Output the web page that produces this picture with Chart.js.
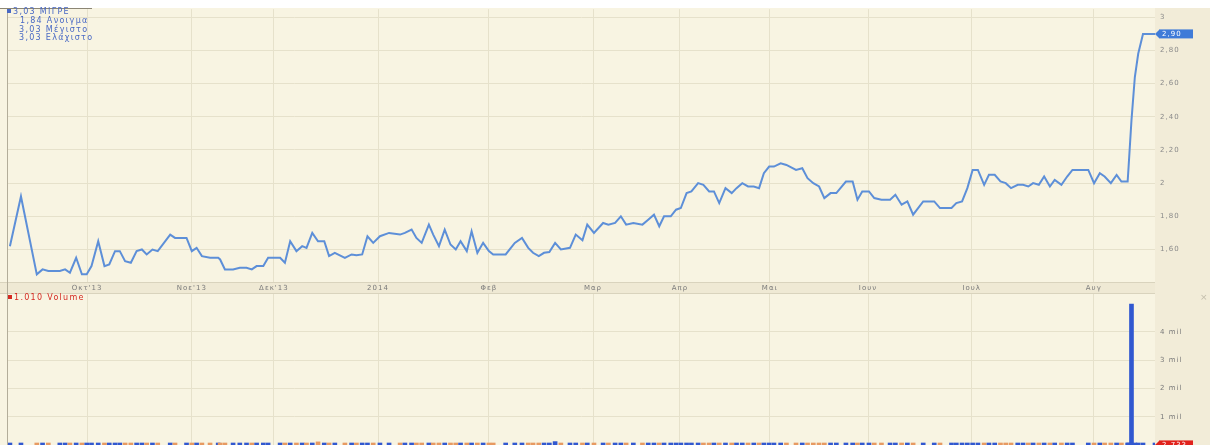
<!DOCTYPE html>
<html>
<head>
<meta charset="utf-8">
<script src="https://cdn.jsdelivr.net/npm/chart.js@4.4.1/dist/chart.umd.min.js"></script>
<style>
  html, body { margin: 0; padding: 0; background: #fff; width: 1210px; height: 445px; overflow: hidden; }
  #panel { position: absolute; left: 0; top: 8px; width: 1155px; height: 437px; background: #f8f4e2; }
  #axisBg { position: absolute; left: 1155px; top: 8px; width: 55px; height: 437px; background: #f2ecd8; }
  #leftLine { position: absolute; left: 7px; top: 8px; width: 1px; height: 437px; background: #b3ad9a; }
  #tabLine { position: absolute; left: 0; top: 8px; width: 92px; height: 1px; background: #8c8674; }
  canvas { position: absolute; left: 0; }
  #priceChart { top: 0; }
  #volChart { top: 294px; }
  .legend { position: absolute; font-family: "DejaVu Sans", sans-serif; font-size: 8px; line-height: 8.8px; letter-spacing: 1.3px; white-space: nowrap; }
  .sq { display: inline-block; width: 4px; height: 4px; margin-right: 2px; vertical-align: 1px; }
  #priceLegend { left: 7px; top: 8px; color: #4868c4; }
  #volLegend { left: 8px; top: 294px; color: #d42a22; }
  #closeX { position: absolute; left: 1200px; top: 292px; font-family: "DejaVu Sans", sans-serif; font-size: 9px; color: #c2bcaa; }
</style>
</head>
<body>
<div id="panel"></div>
<div id="axisBg"></div>
<canvas id="priceChart" width="1210" height="294"></canvas>
<canvas id="volChart" width="1210" height="151"></canvas>
<div id="leftLine"></div>
<div id="tabLine"></div>
<div id="priceLegend" class="legend">
  <div><span class="sq" style="background:#4868c4"></span>3,03 ΜΙΓΡΕ</div>
  <div style="padding-left:13px">1,84 Ανοιγμα</div>
  <div style="padding-left:12px">3,03 Μέγιστο</div>
  <div style="padding-left:12px">3,03 Ελάχιστο</div>
</div>
<div id="volLegend" class="legend"><span class="sq" style="background:#d42a22"></span>1.010 Volume</div>
<div id="closeX">×</div>
<script>
// trading day index (from 19 Sep 2013) of each vertex of the price line
const days = [
  0.4, 2.7, 6.0, 7.2, 8.4, 10.8, 11.9, 12.9, 14.2, 15.4,
  16.4, 17.4, 18.8, 20.1, 21.1, 22.3, 23.3, 24.4, 25.6, 26.8,
  27.9, 28.9, 30.1, 31.2, 33.8, 34.8, 37.2, 38.3, 39.3, 40.4,
  42.1, 43.8, 44.2, 45.2, 46.9, 48.3, 49.7, 50.8, 51.8, 53.2,
  54.2, 56.7, 57.7, 58.8, 60.1, 61.3, 62.2, 63.4, 64.6, 65.9,
  66.9, 68.1, 70.2, 71.6, 72.6, 73.8, 74.9, 76.1, 77.5, 79.4,
  81.7, 82.7, 84.1, 85.1, 86.2, 87.7, 88.6, 89.8, 91.0, 92.2,
  93.3, 94.3, 95.6, 96.6, 97.8, 99.0, 100.2, 101.1, 103.7, 105.6,
  107.1, 108.4, 109.4, 110.6, 111.7, 112.8, 114.0, 115.2, 117.1, 118.3,
  119.7, 120.7, 122.1, 124.0, 125.1, 126.5, 127.7, 128.8, 130.3, 132.2,
  133.4, 134.6, 135.7, 136.7, 138.1, 139.2, 140.2, 141.4, 142.4, 143.8,
  144.9, 146.1, 147.1, 148.2, 149.5, 150.8, 151.8, 153.0, 154.2, 155.4,
  156.5, 157.5, 158.6, 159.6, 161.0, 162.2, 164.2, 165.5, 166.6, 167.8,
  169.0, 170.1, 171.4, 172.6, 174.6, 176.0, 177.0, 178.0, 179.4, 180.5,
  182.0, 183.8, 184.9, 186.2, 187.4, 188.6, 190.7, 193.0, 194.2, 196.6,
  197.6, 198.8, 199.9, 201.0, 202.1, 203.4, 204.4, 205.6, 206.8, 207.9,
  209.0, 210.4, 211.5, 212.6, 213.6, 214.8, 215.9, 217.1, 218.1, 219.5,
  220.7, 221.8, 225.1, 226.3, 227.5, 228.5, 229.8, 231.0, 232.0, 233.3,
  233.5, 234.1, 234.8, 235.5, 236.5, 239
];

const prices = [
  1.62, 1.92, 1.45, 1.48, 1.47, 1.47, 1.48, 1.46, 1.55, 1.45,
  1.45, 1.50, 1.65, 1.50, 1.51, 1.59, 1.59, 1.53, 1.52, 1.59,
  1.60, 1.57, 1.60, 1.59, 1.69, 1.67, 1.67, 1.59, 1.61, 1.56,
  1.55, 1.55, 1.54, 1.48, 1.48, 1.49, 1.49, 1.48, 1.50, 1.50,
  1.55, 1.55, 1.52, 1.65, 1.59, 1.62, 1.61, 1.70, 1.65, 1.65,
  1.56, 1.58, 1.55, 1.57, 1.565, 1.57, 1.68, 1.64, 1.68, 1.70,
  1.69, 1.70, 1.72, 1.67, 1.64, 1.75, 1.69, 1.62, 1.72, 1.63,
  1.60, 1.65, 1.59, 1.71, 1.58, 1.64, 1.59, 1.57, 1.57, 1.64,
  1.67, 1.61, 1.58, 1.56, 1.58, 1.585, 1.64, 1.60, 1.61, 1.69,
  1.656, 1.75, 1.70, 1.76, 1.75, 1.76, 1.80, 1.75, 1.76, 1.75,
  1.78, 1.81, 1.74, 1.80, 1.80, 1.84, 1.85, 1.94, 1.95, 2.00,
  1.99, 1.95, 1.95, 1.88, 1.97, 1.94, 1.97, 2.00, 1.98, 1.98,
  1.97, 2.06, 2.10, 2.10, 2.12, 2.11, 2.08, 2.09, 2.03, 2.00,
  1.98, 1.91, 1.94, 1.94, 2.01, 2.01, 1.90, 1.95, 1.95, 1.91,
  1.90, 1.90, 1.93, 1.87, 1.89, 1.81, 1.89, 1.89, 1.85, 1.85,
  1.88, 1.89, 1.97, 2.08, 2.08, 1.99, 2.05, 2.05, 2.01, 2.00,
  1.97, 1.99, 1.99, 1.98, 2.00, 1.99, 2.04, 1.98, 2.02, 1.99,
  2.04, 2.08, 2.08, 2.00, 2.06, 2.04, 2.00, 2.05, 2.01, 2.01,
  2.10, 2.38, 2.64, 2.78, 2.90, 2.90
];

// volume in thousands of shares
const volumes = [
  35, 60, 22, 18, 25, 14, 20, 30, 28, 16,
  12, 24, 45, 30, 18, 26, 20, 15, 22, 31,
  19, 14, 27, 20, 40, 22, 18, 33, 21, 17,
  15, 12, 18, 26, 14, 11, 16, 20, 13, 19,
  28, 17, 22, 48, 25, 30, 21, 55, 110, 26,
  34, 20, 16, 23, 15, 18, 38, 24, 29, 33,
  21, 17, 25, 30, 27, 44, 36, 31, 40, 28,
  22, 26, 19, 35, 29, 24, 20, 15, 13, 27,
  30, 25, 18, 16, 20, 23, 120, 22, 19, 34,
  28, 41, 25, 37, 22, 24, 39, 26, 21, 18,
  27, 33, 29, 24, 19, 35, 31, 52, 46, 40,
  30, 26, 22, 38, 34, 25, 29, 33, 21, 18,
  16, 44, 39, 27, 36, 24, 20, 22, 31, 26,
  23, 37, 21, 18, 32, 20, 35, 24, 17, 22,
  19, 15, 23, 29, 18, 33, 27, 16, 21, 14,
  20, 25, 42, 48, 30, 36, 28, 22, 24, 19,
  23, 18, 16, 20, 22, 17, 31, 26, 21, 19,
  28, 34, 22, 30, 27, 21, 25, 29, 18, 16,
  40, 4980, 30, 20, 15, 2.733
];

const monthDays = [16.5, 38.3, 55.4, 77.1, 100.2, 121.9, 140, 158.75, 179.2, 200.8, 226.25];
const monthLabels = ["Οκτ'13", "Νοε'13", "Δεκ'13", "2014", "Φεβ", "Μαρ", "Απρ", "Μαι", "Ιουν", "Ιουλ", "Αυγ"];
const priceTicks = [1.6, 1.8, 2, 2.2, 2.4, 2.6, 2.8, 3];
const volumeTicks = [1000, 2000, 3000, 4000];

const gridColor = '#e6e1cb';
const tickFont = { family: 'DejaVu Sans', size: 7 };

function fmtPrice(v) {
  return Number.isInteger(v) ? String(v) : v.toFixed(2).replace('.', ',');
}
function fmtShares(k) {
  return String(Math.round(k * 1000)).replace(/\B(?=(\d{3})+(?!\d))/g, '.');
}

// small letter spacing like the original terminal font
const spacing = {
  id: 'spacing',
  beforeDraw(chart) { chart.ctx.letterSpacing = '1px'; }
};

// date band under the price panel
const dateBand = {
  id: 'dateBand',
  beforeDraw(chart) {
    const { ctx, chartArea } = chart;
    ctx.save();
    ctx.fillStyle = '#efe9d4';
    ctx.fillRect(0, chartArea.bottom, chartArea.right, 12);
    ctx.fillStyle = '#d9d3bd';
    ctx.fillRect(0, chartArea.bottom, chartArea.right, 1);
    ctx.fillRect(0, chartArea.bottom + 11, chartArea.right, 1);
    ctx.restore();
  }
};

function valueTag(axisId, value, text, color) {
  return {
    id: 'tag_' + axisId,
    afterDraw(chart) {
      const ctx = chart.ctx;
      const x = chart.chartArea.right;
      const y = Math.min(chart.scales[axisId].getPixelForValue(value), chart.chartArea.bottom);
      ctx.save();
      ctx.fillStyle = color;
      ctx.beginPath();
      ctx.moveTo(x, y);
      ctx.lineTo(x + 4, y - 4);
      ctx.lineTo(x + 4, y + 4);
      ctx.closePath();
      ctx.fill();
      ctx.fillRect(x + 4, y - 4.5, 34, 9);
      ctx.fillStyle = '#fff';
      ctx.font = '7px "DejaVu Sans"';
      ctx.letterSpacing = '1px';
      ctx.textBaseline = 'middle';
      ctx.fillText(text, x + 7, y + 0.5);
      ctx.restore();
    }
  };
}

// no label padding on the volume axis, so the zero line sits at the bottom edge
function noPad(s) {
  s.width = 55;
  s.paddingTop = 0;
  s.paddingBottom = 0;
}

// Price chart
const lastPrice = prices[prices.length - 1];
new Chart(document.getElementById('priceChart'), {
  type: 'line',
  data: {
    datasets: [{
      data: days.map((d, i) => ({ x: d, y: prices[i] })),
      borderColor: '#5d8fd8',
      borderWidth: 2,
      pointRadius: 0,
      tension: 0
    }]
  },
  options: {
    responsive: false,
    animation: false,
    devicePixelRatio: 1,
    layout: { padding: { left: 8, top: 8, right: 0, bottom: 0 } },
    plugins: { legend: { display: false }, tooltip: { enabled: false } },
    scales: {
      x: {
        type: 'linear', min: 0, max: 239,
        afterFit: s => { s.height = 12; },
        afterBuildTicks: s => { s.ticks = monthDays.map(v => ({ value: v })); },
        ticks: { autoSkip: false, maxRotation: 0, padding: 2, color: '#7a7a7a', font: tickFont,
                 callback: (v, i) => monthLabels[i] },
        grid: { color: gridColor, drawTicks: false },
        border: { display: false }
      },
      y: {
        position: 'right', min: 1.404, max: 3.049,
        afterFit: s => { s.width = 55; },
        afterBuildTicks: s => { s.ticks = priceTicks.map(v => ({ value: v })); },
        ticks: { padding: 5, color: '#8a8a8a', font: tickFont, callback: v => fmtPrice(v) },
        grid: { color: gridColor, drawTicks: false },
        border: { display: false }
      }
    }
  },
  plugins: [spacing, dateBand, valueTag('y', lastPrice, fmtPrice(lastPrice), '#3f7bd8')]
});

// Volume chart
const lastVolume = volumes[volumes.length - 1];
new Chart(document.getElementById('volChart'), {
  type: 'bar',
  data: {
    datasets: [{
      data: days.map((d, i) => ({ x: d, y: volumes[i] })),
      backgroundColor: prices.map((p, i) => (i === 0 || p >= prices[i - 1]) ? '#3158d0' : '#e79a62'),
      barThickness: 4,
      minBarLength: 2
    }]
  },
  options: {
    responsive: false,
    animation: false,
    devicePixelRatio: 1,
    layout: { padding: { left: 8, top: 0, right: 0, bottom: 0 } },
    plugins: { legend: { display: false }, tooltip: { enabled: false } },
    scales: {
      x: {
        type: 'linear', min: 0, max: 239, offset: false,
        afterFit: s => { s.height = 0; s.paddingLeft = 0; s.paddingRight = 0; },
        afterBuildTicks: s => { s.ticks = monthDays.map(v => ({ value: v })); },
        ticks: { display: false },
        grid: { color: gridColor, drawTicks: false, offset: false },
        border: { display: false }
      },
      y: {
        position: 'right', min: 0, max: 5340,
        afterFit: noPad,
        afterBuildTicks: s => { s.ticks = volumeTicks.map(v => ({ value: v })); },
        ticks: { padding: 5, color: '#7a7a7a', font: tickFont, callback: v => (v / 1000) + ' mil' },
        grid: { color: gridColor, drawTicks: false },
        border: { display: false }
      }
    }
  },
  plugins: [spacing, valueTag('y', lastVolume, fmtShares(lastVolume), '#e0221c')]
});
</script>
</body>
</html>
